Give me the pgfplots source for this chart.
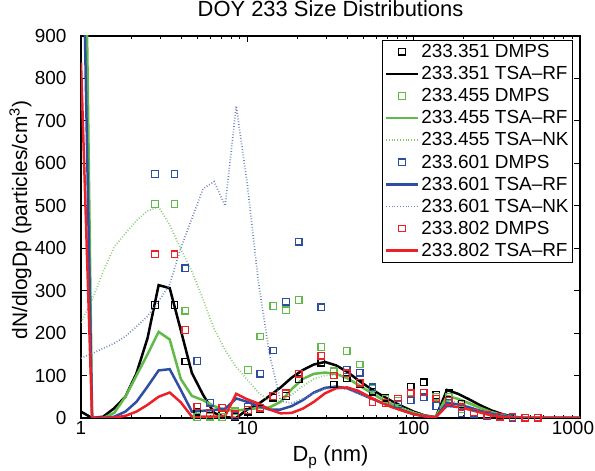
\documentclass[border=0pt]{standalone}
\usepackage{pgfplots}
\pgfplotsset{compat=1.18}
\usepackage{fontspec}
\setmainfont{Liberation Sans}
\definecolor{mgreen}{RGB}{96,187,70}
\definecolor{mblue}{RGB}{46,78,162}
\definecolor{mred}{RGB}{236,32,39}
\begin{document}
\begin{tikzpicture}
\begin{axis}[
  scale only axis, width=499bp, height=382bp,
  xmode=log, xmin=1, xmax=1000, ymin=0, ymax=900,
  xtick={1,10,100,1000}, xticklabels={1,10,100,\kern-14bp 1000},
  minor xtick={2,3,4,5,6,7,8,9,20,30,40,50,60,70,80,90,200,300,400,500,600,700,800,900},
  ytick={0,100,...,900},
  tick align=inside, tick pos=both,
  major tick length=6bp, minor tick length=3bp,
  every tick/.style={black, line width=0.8bp},
  axis line style={line width=1.2bp},
  /pgf/number format/assume math mode=true,
  tick label style={font=\fontsize{19}{19}\selectfont},
  yticklabel style={xshift=-11bp},
  title={DOY 233 Size Distributions},
  title style={at={(0.5,1)}, anchor=base, yshift=14bp, font=\fontsize{22}{22}\selectfont},
  xlabel={D\textsubscript{p} (nm)},
  xlabel style={at={(0.5,0)}, anchor=base, yshift=-44bp, font=\fontsize{22}{22}\selectfont},
  ylabel={dN/dlogDp (particles/cm\textsuperscript{3})},
  ylabel style={at={(axis description cs:-0.108,0.518)}, anchor=base, font=\fontsize{21}{21}\selectfont},
  legend style={at={(1,1)}, anchor=north east, xshift=-7bp, yshift=-4bp,
    font=\fontsize{19}{22.8}\selectfont, draw=black, line width=0.8bp,
    inner sep=2bp, row sep=3.4bp, cells={anchor=west}},
  legend image code/.code={\draw[mark repeat=2,mark phase=2,#1] plot coordinates {(0bp,0bp) (16bp,0bp) (32bp,0bp)};},
  dmps/.style={only marks, mark=square, mark size=3.3bp, line width=1.3bp},
  rf/.style={no marks, line width=2.5bp},
  nk/.style={no marks, line width=1.7bp, dash pattern=on 0.8bp off 2bp},
]
% 233.351
\addplot[dmps, black] coordinates {(2.78,266)(3.65,266)(4.23,133)(5.00,15)(5.96,5)(7.07,8)(8.47,3)(10.1,15)(11.98,21)(14.35,48)(17.1,52)(20.4,92)(27.8,130)(33.1,79)(39.5,93)(47.3,80)(56.6,62)(67.7,48)(80.4,40)(95.9,74)(114.8,84)(137,54)(162.5,58)(194,33)(231,13)(277,7)(330,3)(393,2)(469,0.5)(556,0.5)};
\addlegendentry{233.351 DMPS}
\addplot[rf, black] coordinates {(1,15)(1.166,0)(1.359,3)(1.585,23)(1.848,50)(2.154,105)(2.512,188)(2.929,313)(3.415,306)(3.981,207)(4.642,106)(5.412,55)(6.310,12)(7.356,2)(8.577,0)(10,20)(11.66,33)(13.59,52)(15.85,72)(18.48,95)(21.54,113)(25.12,126)(29.29,132)(34.15,124)(39.81,109)(46.42,89)(54.12,71)(63.10,55)(73.56,40)(85.77,27)(100,15)(116.6,6)(135.9,2)(158.5,66)(184.8,57)(215.4,44)(251.2,30)(292.9,18)(341.5,9)(398.1,3)(464.2,0)(541.2,0)(631,0)(735.6,0)(857.7,0)(1000,0)};
\addlegendentry{233.351 TSA--RF}
% 233.455
\addplot[dmps, mgreen] coordinates {(2.78,504)(3.65,504)(4.23,253)(5.00,2)(5.96,3)(7.07,2)(8.47,16)(10.1,113)(11.98,192)(14.35,264)(17.1,254)(20.4,278)(27.8,167)(33.1,110)(39.5,158)(47.3,126)(56.6,70)(67.7,45)(80.4,40)(95.9,60)(114.8,60)(137,50)(162.5,50)(194,20)(231,13)(277,7)(330,3)(393,2)(469,1)(556,1)};
\addlegendentry{233.455 DMPS}
\addplot[rf, mgreen] coordinates {(1,2000)(1.166,0)(1.359,0)(1.585,12)(1.848,50)(2.154,100)(2.512,150)(2.929,203)(3.415,185)(3.981,92)(4.642,52)(5.412,42)(6.310,28)(7.356,19)(8.577,17)(10,21)(11.66,23)(13.59,25)(15.85,38)(18.48,68)(21.54,92)(25.12,104)(29.29,107)(34.15,104)(39.81,94)(46.42,78)(54.12,62)(63.10,46)(73.56,33)(85.77,22)(100,12)(116.6,5)(135.9,2)(158.5,52)(184.8,45)(215.4,35)(251.2,24)(292.9,14)(341.5,7)(398.1,2)(464.2,0)(541.2,0)(631,0)(735.6,0)(857.7,0)(1000,0)};
\addlegendentry{233.455 TSA--RF}
\addplot[nk, mgreen!80] coordinates {(1,225)(1.166,278)(1.359,345)(1.585,403)(1.848,435)(2.154,465)(2.512,488)(2.929,497)(3.415,455)(3.981,398)(4.642,345)(5.412,280)(6.310,210)(7.356,160)(8.577,120)(10,90)(11.66,60)(13.59,40)(15.85,40)(18.48,55)(21.54,75)(25.12,92)(29.29,100)(34.15,102)(39.81,95)(46.42,82)(54.12,66)(63.10,50)(73.56,36)(85.77,24)(100,14)(116.6,6)(135.9,2)(158.5,40)(184.8,38)(215.4,30)(251.2,20)(292.9,11)(341.5,5)(398.1,1)(464.2,0)(541.2,0)(631,0)(735.6,0)(857.7,0)(1000,0)};
\addlegendentry{233.455 TSA--NK}
% 233.601
\addplot[dmps, mblue] coordinates {(2.78,575)(3.65,575)(4.23,353)(5.00,134)(5.96,36)(7.07,24)(8.47,5)(10.1,27)(11.98,104)(14.35,159)(17.1,274)(20.4,415)(27.8,261)(33.1,100)(39.5,113)(47.3,107)(56.6,72)(67.7,35)(80.4,33)(95.9,42)(114.8,49)(137,28)(162.5,35)(194,11)(231,10)(277,5)(330,3)(393,1)(469,0.5)(556,0.5)};
\addlegendentry{233.601 DMPS}
\addplot[rf, mblue] coordinates {(1,1400)(1.166,0)(1.359,0)(1.585,3)(1.848,15)(2.154,38)(2.512,74)(2.929,112)(3.415,115)(3.981,66)(4.642,15)(5.412,17)(6.310,19)(7.356,22)(8.577,46)(10,38)(11.66,28)(13.59,20)(15.85,20)(18.48,28)(21.54,42)(25.12,60)(29.29,71)(34.15,74)(39.81,70)(46.42,59)(54.12,48)(63.10,37)(73.56,27)(85.77,18)(100,9)(116.6,4)(135.9,1)(158.5,36)(184.8,32)(215.4,25)(251.2,17)(292.9,10)(341.5,5)(398.1,1)(464.2,0)(541.2,0)(631,0)(735.6,0)(857.7,0)(1000,0)};
\addlegendentry{233.601 TSA--RF}
\addplot[nk, mblue!70] coordinates {(1,141)(1.166,152)(1.359,164)(1.585,176)(1.848,192)(2.154,215)(2.512,240)(2.929,275)(3.415,315)(3.981,400)(4.642,470)(5.412,540)(6.310,557)(7.356,500)(8.577,735)(10,550)(11.66,320)(13.59,150)(15.85,40)(18.48,35)(21.54,45)(25.12,58)(29.29,68)(34.15,72)(39.81,68)(46.42,58)(54.12,47)(63.10,36)(73.56,25)(85.77,16)(100,9)(116.6,4)(135.9,2)(158.5,25)(184.8,25)(215.4,20)(251.2,14)(292.9,8)(341.5,4)(398.1,1)(464.2,0)(541.2,0)(631,0)(735.6,0)(857.7,0)(1000,0)};
\addlegendentry{233.601 TSA--NK}
% 233.802
\addplot[dmps, mred] coordinates {(2.78,386)(3.65,386)(4.23,207)(5.00,27)(5.96,12)(7.07,24)(8.47,9)(10.1,19)(11.98,24)(14.35,52)(17.1,58)(20.4,104)(27.8,147)(33.1,100)(39.5,105)(47.3,83)(56.6,37)(67.7,35)(80.4,46)(95.9,58)(114.8,60)(137,46)(162.5,40)(194,25)(231,13)(277,7)(330,3)(393,2)(469,1)(556,1)};
\addlegendentry{233.802 DMPS}
\addplot[rf, mred] coordinates {(1,837)(1.166,0)(1.359,0)(1.585,1)(1.848,5)(2.154,15)(2.512,31)(2.929,50)(3.415,60)(3.981,37)(4.642,3)(5.412,3)(6.310,3)(7.356,5)(8.577,57)(10,44)(11.66,34)(13.59,20)(15.85,11)(18.48,12)(21.54,22)(25.12,38)(29.29,58)(34.15,70)(39.81,72)(46.42,64)(54.12,50)(63.10,37)(73.56,26)(85.77,17)(100,9)(116.6,4)(135.9,2)(158.5,29)(184.8,26)(215.4,20)(251.2,13)(292.9,6)(341.5,2)(398.1,0)(464.2,0)(541.2,0)(631,0)(735.6,0)(857.7,0)(1000,0)};
\addlegendentry{233.802 TSA--RF}
\end{axis}
\pgfresetboundingbox
\path ([shift={(-81bp,-53bp)}]current axis.south west) rectangle ([shift={(15bp,36bp)}]current axis.north east);
\end{tikzpicture}
\end{document}
